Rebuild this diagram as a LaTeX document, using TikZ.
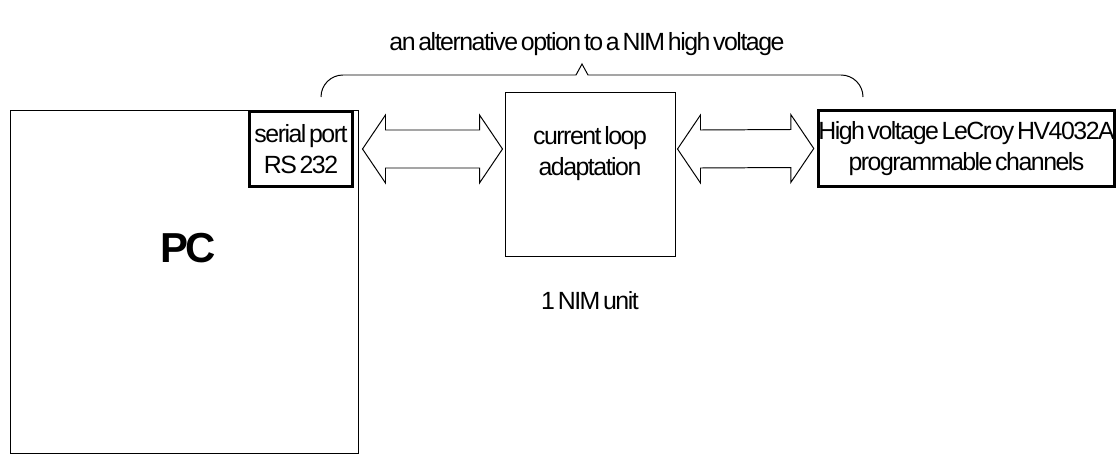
\documentclass[tikz,border=0pt]{standalone}
\usepackage{fontspec}
\setmainfont{Liberation Sans}[LetterSpace=-6, WordSpace=0.5]
\usetikzlibrary{calc, positioning}
\newcommand{\pxu}{0.025cm}
\tikzset{box/.style = {draw, line width=0.7pt, inner sep=0pt},
         thickbox/.style = {draw, line width=2.1pt, inner sep=0pt, align=center},
         txt/.style = {inner sep=0pt, align=center, font=\fontsize{17.7}{22}\selectfont}}
\newcommand{\fatarrow}[2]{%
  \draw[line width=0.7pt] (#1) -- ++(23,-34) -- ++(0,15) -- ($(#2)+(-23,-19)$) -- ++(0,-15)
    -- (#2) -- ++(-23,34) -- ++(0,-15) -- ($(#1)+(23,19)$) -- ++(0,15) -- cycle;}

\begin{document}
\begin{tikzpicture}[x=\pxu, y=-\pxu]
        \useasboundingbox (0,0) rectangle (1117,454);
        \node[box, minimum width=348*\pxu, minimum height=343*\pxu] (pc) at (184,281.5) {};
        \node[txt, font=\fontsize{29.8}{34}\selectfont\bfseries] (pclabel) at (188,248) {PC};
        \node[thickbox, txt, minimum width=103*\pxu, minimum height=75*\pxu] (port) at (301,149) {serial port\\RS 232};
        \node[box, minimum width=170*\pxu, minimum height=164*\pxu] (conv) at (590,174) {};
        \node[txt] (convlabel) at (590,154) {current loop\\adaptation};
        \node[txt] (nim) at (590,301) {1 NIM unit};
        \node[thickbox, txt, minimum width=290*\pxu, minimum height=76*\pxu] (hv) at (966.5,148.5) {High voltage LeCroy HV4032A\\programmable channels};
        \node[txt] (alt) at (587,44) {an alternative option to a NIM high voltage};
        \coordinate (la) at ($(port.east -| pc.east)+(4,0)$);
        \coordinate (lb) at ($(port.east -| conv.west)+(-2,0)$);
        \coordinate (ra) at ($(port.east -| conv.east)+(2,0)$);
        \coordinate (rb) at ($(hv.west)+(-3,0)$);
        \fatarrow{la}{lb}
        \fatarrow{ra}{rb}
        \draw[line width=0.7pt] (321,97) to[out=90, in=180] (343,75) -- (576,75) -- (582,64)
            -- (588,75) -- (841,75) to[out=0, in=90] (863,97);
    \end{tikzpicture}
\end{document}
